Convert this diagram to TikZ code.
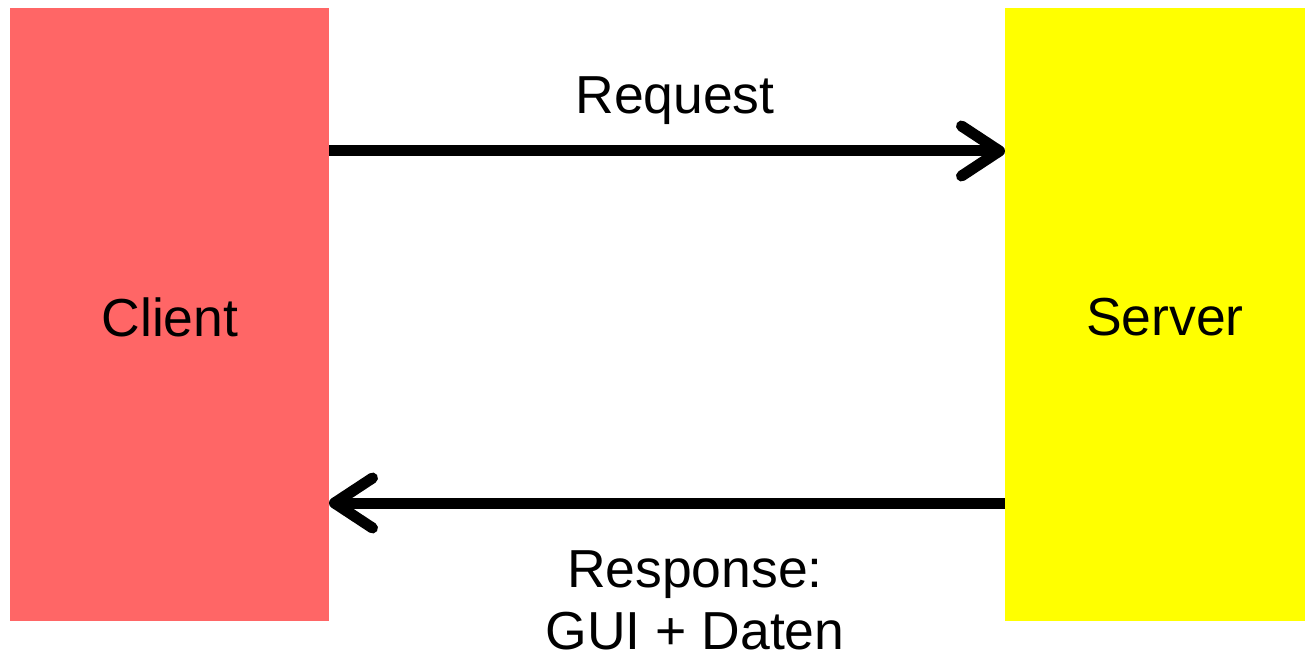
\documentclass[tikz,border=0pt]{standalone}
\usepackage{fontspec}
\setmainfont{Liberation Sans}
\usetikzlibrary{arrows.meta}
\definecolor{clientred}{HTML}{FF6666}
\definecolor{serveryellow}{HTML}{FFFF00}
\begin{document}
\begin{tikzpicture}[x=1pt, y=-1pt,
  box/.style={minimum width=#1, minimum height=613pt, inner sep=0pt, outer sep=0pt},
  msg/.style={line width=11pt, -{Straight Barb[length=38pt, width=50pt, round]}},
  lbl/.style={font=\fontsize{53.5}{62}\selectfont, align=center}]
\useasboundingbox (0,0) rectangle (1306,655);
\node[box=319pt, fill=clientred] (client) at (169.5,314.5){};
\node[lbl] (clientlbl) at (170,317){Client};
\node[box=300pt, fill=serveryellow] (server) at (1155,314.5){};
\node[lbl] (serverlbl) at (1165,317){Server};
\coordinate (req) at (675,151);
\coordinate (res) at (675,503);
\draw[msg](client.east |- req) -- (server.west |- req);
\draw[msg](server.west |- res) -- (client.east |- res);
\node[lbl] (reqlbl) at (675,101){Request};
\node[lbl] (reslbl) at (695,600){Response:\\GUI + Daten};

\end{tikzpicture}
\end{document}
